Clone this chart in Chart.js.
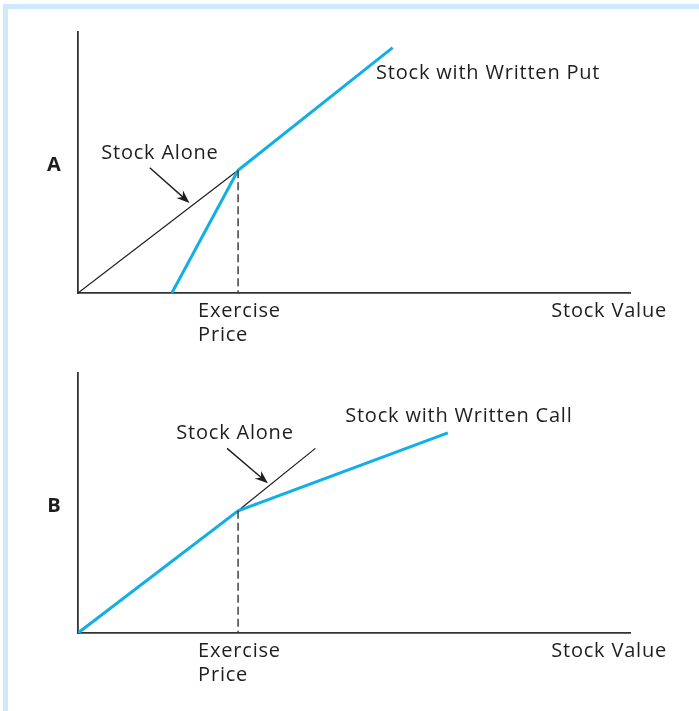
<!DOCTYPE html>
<html>
<head>
<meta charset="utf-8">
<script src="https://cdn.jsdelivr.net/npm/chart.js@4.4.1/dist/chart.umd.min.js"></script>
<style>
  html, body { margin: 0; padding: 0; background: #fff; }
  body { width: 699px; height: 711px; position: relative; overflow: hidden; }
  #frame {
    position: absolute; left: 3px; top: 4px; width: 696px; height: 707px;
    border-left: 5px solid #cdeafb; border-top: 5px solid #cdeafb;
    box-sizing: border-box;
  }
  .panel { position: absolute; left: 0; width: 699px; }
  #panelA { top: 0; height: 355px; }
  #panelB { top: 340px; height: 371px; }
</style>
</head>
<body>
<div id="frame"></div>
<div class="panel" id="panelA"><canvas id="chartA"></canvas></div>
<div class="panel" id="panelB"><canvas id="chartB"></canvas></div>
<script>
const COLORS = {
  blue: "#12aee8",
  ink: "#1e1e1e",
  axis: "#333333",
};
const FONT = '"Open Sans", "Noto Sans", sans-serif';

// payoff values (arbitrary units, axes run 0..100)
const exercisePrice = 29;
const exerciseValue = 47;

const stockAloneA = [{ x: 0, y: 0 }, { x: 29, y: 47 }];
const writtenPutA = [{ x: 17, y: 0 }, { x: 29, y: 47 }, { x: 57, y: 94 }];

const stockAloneB = [{ x: 0, y: 0 }, { x: 29, y: 47 }, { x: 43, y: 71 }];
const writtenCallB = [{ x: 0, y: 0 }, { x: 29, y: 47 }, { x: 67, y: 77 }];

const xTickLabels = ["Exercise", "Price"];
const xAxisTitle = "Stock Value";

// plugin: dashed drop line, labels and arrow
const annotate = {
  id: "annotate",
  afterDatasetsDraw(chart, args, opts) {
    const { ctx, chartArea } = chart;
    const xs = chart.scales.x;
    const ys = chart.scales.y;
    const ex = xs.getPixelForValue(exercisePrice);

    ctx.save();
    // dashed line from kink down to axis
    ctx.strokeStyle = COLORS.axis;
    ctx.lineWidth = 1.4;
    ctx.setLineDash([8, 4]);
    ctx.beginPath();
    ctx.moveTo(ex, ys.getPixelForValue(exerciseValue));
    ctx.lineTo(ex, chartArea.bottom);
    ctx.stroke();
    ctx.setLineDash([]);

    // arrow
    const a0 = { x: xs.getPixelForValue(opts.arrow[0]), y: ys.getPixelForValue(opts.arrow[1]) };
    const a1 = { x: xs.getPixelForValue(opts.arrow[2]), y: ys.getPixelForValue(opts.arrow[3]) };
    const ang = Math.atan2(a1.y - a0.y, a1.x - a0.x);
    ctx.strokeStyle = COLORS.ink;
    ctx.fillStyle = COLORS.ink;
    ctx.lineWidth = 1.4;
    ctx.beginPath();
    ctx.moveTo(a0.x, a0.y);
    ctx.lineTo(a1.x - 8 * Math.cos(ang), a1.y - 8 * Math.sin(ang));
    ctx.stroke();
    ctx.beginPath();
    ctx.moveTo(a1.x, a1.y);
    ctx.lineTo(a1.x - 14 * Math.cos(ang - 0.36), a1.y - 14 * Math.sin(ang - 0.36));
    ctx.lineTo(a1.x - 9 * Math.cos(ang), a1.y - 9 * Math.sin(ang));
    ctx.lineTo(a1.x - 14 * Math.cos(ang + 0.36), a1.y - 14 * Math.sin(ang + 0.36));
    ctx.closePath();
    ctx.fill();

    // labels
    ctx.fillStyle = COLORS.ink;
    ctx.textBaseline = "middle";
    ctx.font = `20px ${FONT}`;
    ctx.letterSpacing = "0.8px";
    ctx.textAlign = "left";
    opts.labels.forEach((l) => {
      ctx.fillText(l.text, xs.getPixelForValue(l.x), ys.getPixelForValue(l.y));
    });

    // x-axis texts
    ctx.fillText(xTickLabels[0], ex - 40, chartArea.bottom + 18);
    ctx.fillText(xTickLabels[1], ex - 40, chartArea.bottom + 42);
    ctx.textAlign = "right";
    ctx.fillText(xAxisTitle, chartArea.right + 37, chartArea.bottom + 18);

    // panel letter
    ctx.letterSpacing = "0px";
    ctx.font = `bold 20px ${FONT}`;
    ctx.textAlign = "center";
    ctx.fillText(opts.letter, chartArea.left - 24, (chartArea.top + chartArea.bottom) / 2 + 3);
    ctx.restore();
  },
};

function makeChart(canvas, stock, strategy, padding, opts) {
  return new Chart(canvas, {
    type: "scatter",
    data: {
      datasets: [
        {
          label: "Stock Alone",
          data: stock,
          showLine: true,
          borderColor: COLORS.ink,
          borderWidth: 1.2,
          pointRadius: 0,
          order: 2,
        },
        {
          label: "Strategy",
          data: strategy,
          showLine: true,
          borderColor: COLORS.blue,
          borderWidth: 3,
          pointRadius: 0,
          order: 1,
        },
      ],
    },
    options: {
      responsive: true,
      maintainAspectRatio: false,
      animation: false,
      layout: { padding },
      plugins: {
        legend: { display: false },
        tooltip: { enabled: false },
        annotate: opts,
      },
      scales: {
        x: {
          type: "linear",
          min: 0,
          max: 100,
          grid: { display: false, drawTicks: false },
          ticks: { display: false },
          border: { display: true, color: COLORS.axis, width: 1.8 },
          afterFit: (s) => { s.height = 0; },
        },
        y: {
          type: "linear",
          min: 0,
          max: 100,
          grid: { display: false, drawTicks: false },
          ticks: { display: false },
          border: { display: true, color: COLORS.axis, width: 1.8 },
          afterFit: (s) => { s.width = 0; },
        },
      },
    },
    plugins: [annotate],
  });
}

makeChart(
  document.getElementById("chartA"),
  stockAloneA,
  writtenPutA,
  { left: 78, top: 32, right: 69, bottom: 62 },
  {
    letter: "A",
    arrow: [13, 48, 20.2, 34.5],
    labels: [
      { text: "Stock Alone", x: 4.2, y: 53.5 },
      { text: "Stock with Written Put", x: 54, y: 84 },
    ],
  }
);

makeChart(
  document.getElementById("chartB"),
  stockAloneB,
  writtenCallB,
  { left: 78, top: 33, right: 69, bottom: 78 },
  {
    letter: "B",
    arrow: [27, 71, 34.4, 57.6],
    labels: [
      { text: "Stock Alone", x: 17.8, y: 77 },
      { text: "Stock with Written Call", x: 48.4, y: 83.5 },
    ],
  }
);
</script>
</body>
</html>
